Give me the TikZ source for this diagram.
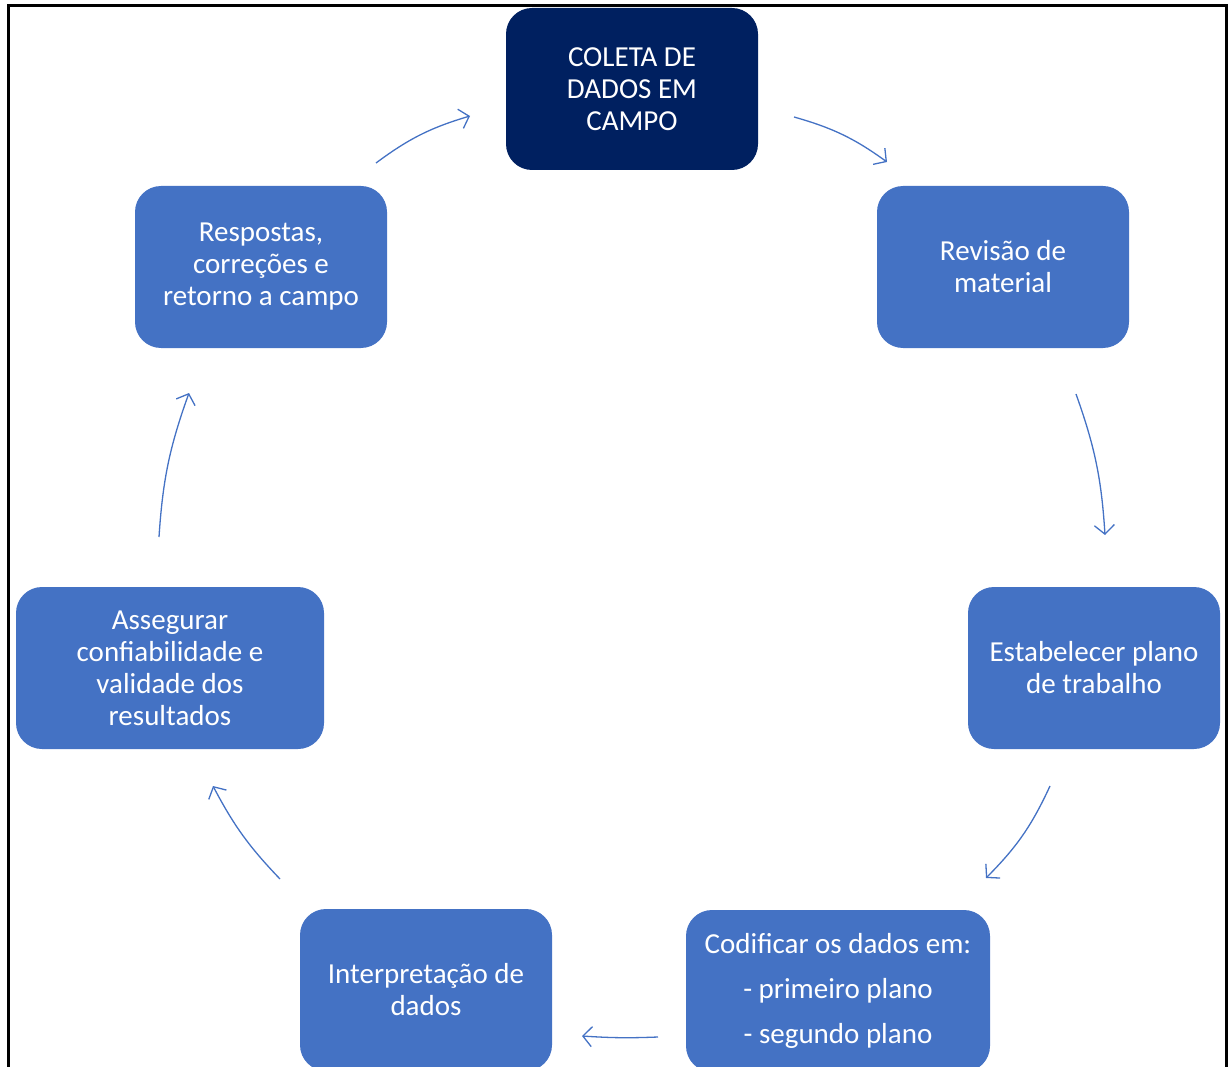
\documentclass[tikz,border=0pt]{standalone}
\usepackage{fontspec}
\setmainfont{Carlito}
\usetikzlibrary{arrows.meta}
\definecolor{stepblue}{HTML}{4472C4}
\definecolor{navy}{HTML}{002060}
\begin{document}
\begin{tikzpicture}[x=1pt,y=-1pt,
  stepbox/.style={rounded corners=26pt, fill=stepblue, text=white, inner sep=0pt,
    align=center, font=\fontsize{29}{32}\selectfont},
  flow/.style={draw=stepblue, line width=1.3pt, -{Straight Barb[length=9pt,width=20pt,line width=1.3pt]}}]
\useasboundingbox (0,0) rectangle (1229,1067);
\clip (0,0) rectangle (1229,1067);
% outer frame
\draw[line width=3pt] (8,6) rectangle (1226.5,1090);
% process steps
\node[stepbox, fill=navy, minimum width=252pt, minimum height=162pt] (coleta) at (632,89) {COLETA DE\\DADOS EM\\CAMPO};
\node[stepbox, minimum width=252pt, minimum height=162pt] (revisao) at (1003,267) {Revisão de\\material};
\node[stepbox, minimum width=252pt, minimum height=162pt] (plano) at (1094,668) {Estabelecer plano\\de trabalho};
\node[stepbox, minimum width=304pt, minimum height=162pt] (codif) at (838,991) {Codificar os dados em:\\[13pt]- primeiro plano\\[13pt]- segundo plano};
\node[stepbox, minimum width=252pt, minimum height=162pt] (interp) at (426,990) {Interpretação de\\dados};
\node[stepbox, minimum width=308pt, minimum height=162pt] (assegurar) at (170,668) {Assegurar\\confiabilidade e\\validade dos\\resultados};
\node[stepbox, minimum width=252pt, minimum height=162pt] (respostas) at (261,267) {Respostas,\\correções e\\retorno a campo};
% connector ends
\coordinate (a1) at (376,163); \coordinate (b1) at (470,116);
\coordinate (a2) at (794,117); \coordinate (b2) at (887,162);
\coordinate (a3) at (1076,394); \coordinate (b3) at (1105,535);
\coordinate (a4) at (1050,786); \coordinate (b4) at (986,878);
\coordinate (a5) at (658,1037); \coordinate (b5) at (582,1036);
\coordinate (a6) at (280,879); \coordinate (b6) at (213,786);
\coordinate (a7) at (159,537); \coordinate (b7) at (189,393);
% cycle arrows
\draw[flow] (a1) to[bend left=10] (b1);
\draw[flow] (a2) to[bend left=10] (b2);
\draw[flow] (a3) to[bend left=8] (b3);
\draw[flow] (a4) to[bend left=10] (b4);
\draw[flow] (a5) to[bend left=3] (b5);
\draw[flow] (a6) to[bend left=8] (b6);
\draw[flow] (a7) to[bend left=8] (b7);
\end{tikzpicture}
\end{document}
